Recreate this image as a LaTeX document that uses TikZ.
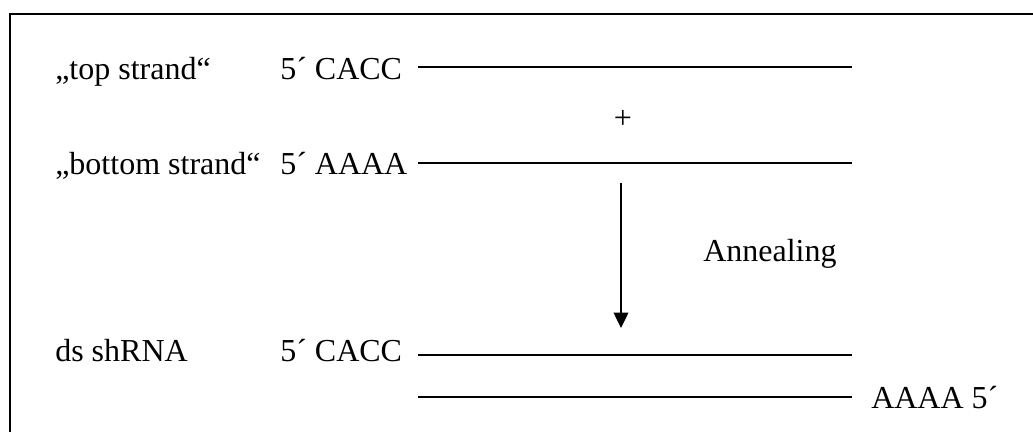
\documentclass[tikz,border=0pt]{standalone}
\usepackage{fontspec}
\setmainfont{Liberation Serif}
\usetikzlibrary{arrows.meta}
\begin{document}
\begin{tikzpicture}[x=0.75pt,y=-0.75pt,
  lbl/.style={anchor=base west,inner sep=0pt,font=\fontsize{24}{28}\selectfont},
  strandline/.style={line width=1.6pt},
  framebox/.style={line width=1.5pt},
  annealarrow/.style={line width=1pt,-{Triangle[width=11pt,length=11.5pt]}}]
\useasboundingbox (0,0) rectangle (1033,432);
\clip (0,0) rectangle (1033,432);
\draw[framebox] (10,14) rectangle (1060,460);
% labels
\node[lbl] (t1) at (55,79) {„top strand“};
\node[lbl] (t2) at (280,79) {5´ CACC};
\node[lbl] (b1) at (55,174) {„bottom strand“};
\node[lbl] (b2) at (280,174) {5´ AAAA};
\node[lbl] (d1) at (55,361) {ds shRNA};
\node[lbl] (d2) at (280,361) {5´ CACC};
\node[lbl] (d3) at (871,408) {AAAA 5´};
\node[lbl] (an) at (703,261) {Annealing};
\node[inner sep=0pt,font=\fontsize{24}{28}\selectfont] (plus) at (623,119) {+};
% strands
\coordinate (s1a) at (418,67);  \coordinate (s1b) at (852,67);
\coordinate (s2a) at (418,163); \coordinate (s2b) at (852,163);
\coordinate (s3a) at (418,355); \coordinate (s3b) at (852,355);
\coordinate (s4a) at (418,397); \coordinate (s4b) at (852,397);
\draw[strandline] (s1a) -- (s1b);
\draw[strandline] (s2a) -- (s2b);
\draw[strandline] (s3a) -- (s3b);
\draw[strandline] (s4a) -- (s4b);
% arrow
\coordinate (ar1) at (621,183);
\coordinate (ar2) at (621,328);
\draw[annealarrow] (ar1) -- (ar2);
\end{tikzpicture}
\end{document}
